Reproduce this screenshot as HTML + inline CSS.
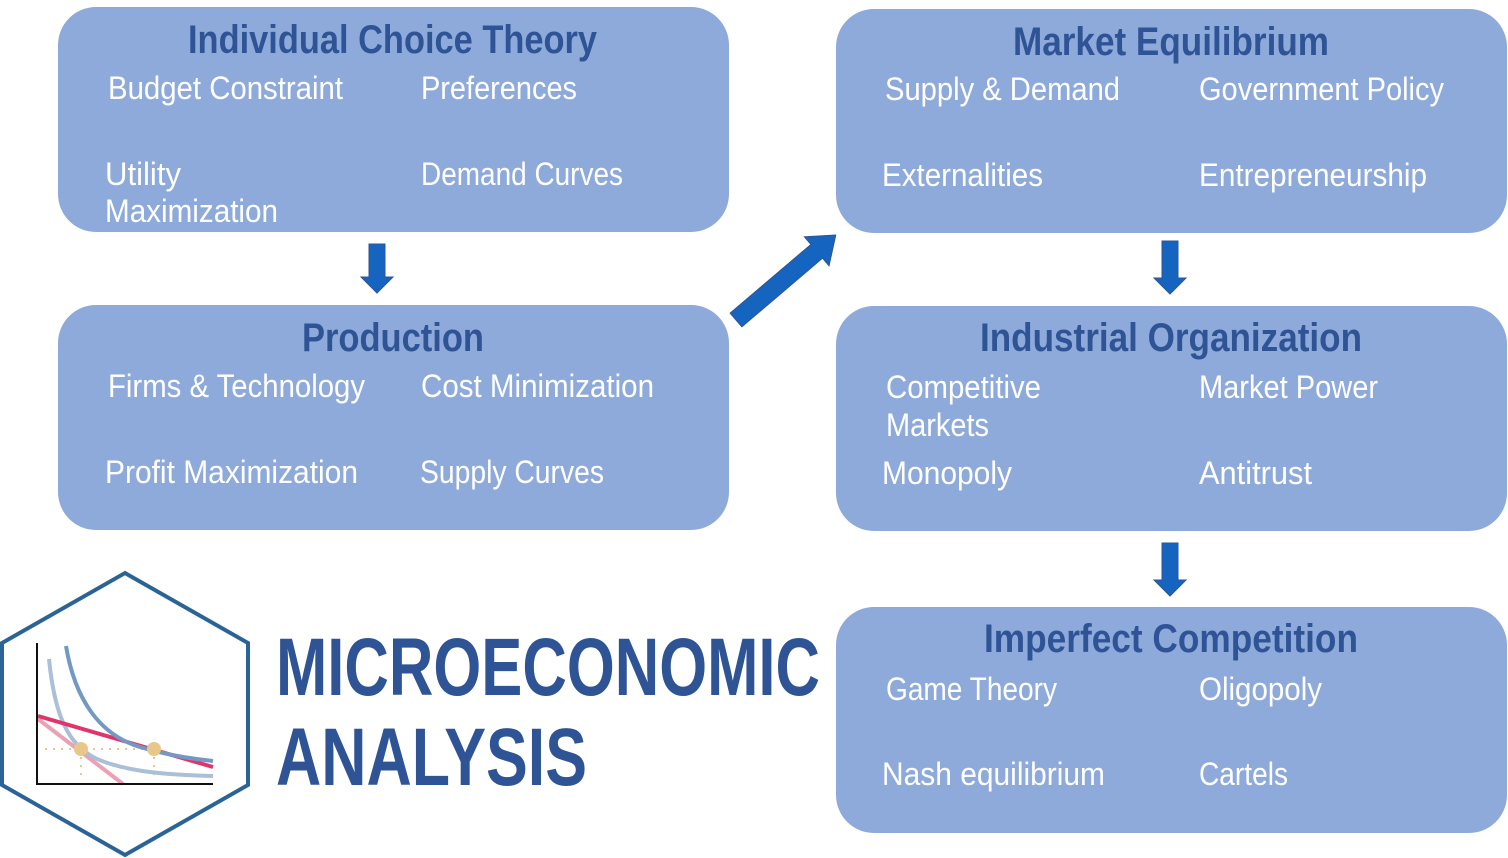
<!DOCTYPE html>
<html><head><meta charset="utf-8"><style>
html,body{margin:0;padding:0;background:#fff;}
svg{display:block;}
.t{font-family:"Liberation Sans",sans-serif;font-weight:bold;fill:#2f5496;font-size:40px;}
.b{font-family:"Liberation Sans",sans-serif;fill:#fff;font-size:32px;}
.m{font-family:"Liberation Sans",sans-serif;font-weight:bold;fill:#2f5496;font-size:82px;}
</style></head><body>
<svg width="1508" height="858" viewBox="0 0 1508 858" xmlns="http://www.w3.org/2000/svg">
<g fill="#8eaadb">
<rect x="58" y="7" width="671" height="225" rx="38"/>
<rect x="58" y="305" width="671" height="225" rx="38"/>
<rect x="836" y="9" width="671" height="224" rx="38"/>
<rect x="836" y="306" width="671" height="225" rx="38"/>
<rect x="836" y="607" width="671" height="226" rx="38"/>
</g>
<g fill="#1565c0" stroke="#2f5496" stroke-width="1">
<polygon points="369,244 385,244 385,277 393,277 377,293 361,277 369,277"/>
<polygon points="1162,241 1178,241 1178,278 1186,278 1170,294 1154,278 1162,278"/>
<polygon points="1162,543 1178,543 1178,580 1186,580 1170,596 1154,580 1162,580"/>
<polygon transform="translate(736,320) rotate(-40.4)" points="0,-9 106,-9 106,-19 131,0 106,19 106,9 0,9"/>
</g>
<text class="t" x="188" y="53" textLength="409" lengthAdjust="spacingAndGlyphs">Individual Choice Theory</text>
<text class="b" x="108" y="99" textLength="235" lengthAdjust="spacingAndGlyphs">Budget Constraint</text>
<text class="b" x="421" y="99" textLength="156" lengthAdjust="spacingAndGlyphs">Preferences</text>
<text class="b" x="105" y="185" textLength="76" lengthAdjust="spacingAndGlyphs">Utility</text>
<text class="b" x="105" y="222" textLength="173" lengthAdjust="spacingAndGlyphs">Maximization</text>
<text class="b" x="421" y="185" textLength="202" lengthAdjust="spacingAndGlyphs">Demand Curves</text>

<text class="t" x="302" y="351" textLength="182" lengthAdjust="spacingAndGlyphs">Production</text>
<text class="b" x="108" y="397" textLength="257" lengthAdjust="spacingAndGlyphs">Firms &amp; Technology</text>
<text class="b" x="421" y="397" textLength="233" lengthAdjust="spacingAndGlyphs">Cost Minimization</text>
<text class="b" x="105" y="483" textLength="253" lengthAdjust="spacingAndGlyphs">Profit Maximization</text>
<text class="b" x="420" y="483" textLength="184" lengthAdjust="spacingAndGlyphs">Supply Curves</text>

<text class="t" x="1013" y="55" textLength="316" lengthAdjust="spacingAndGlyphs">Market Equilibrium</text>
<text class="b" x="885" y="100" textLength="235" lengthAdjust="spacingAndGlyphs">Supply &amp; Demand</text>
<text class="b" x="1199" y="100" textLength="245" lengthAdjust="spacingAndGlyphs">Government Policy</text>
<text class="b" x="882" y="186" textLength="161" lengthAdjust="spacingAndGlyphs">Externalities</text>
<text class="b" x="1199" y="186" textLength="228" lengthAdjust="spacingAndGlyphs">Entrepreneurship</text>

<text class="t" x="980" y="351" textLength="382" lengthAdjust="spacingAndGlyphs">Industrial Organization</text>
<text class="b" x="886" y="398" textLength="155" lengthAdjust="spacingAndGlyphs">Competitive</text>
<text class="b" x="886" y="436" textLength="103" lengthAdjust="spacingAndGlyphs">Markets</text>
<text class="b" x="1199" y="398" textLength="179" lengthAdjust="spacingAndGlyphs">Market Power</text>
<text class="b" x="882" y="484" textLength="130" lengthAdjust="spacingAndGlyphs">Monopoly</text>
<text class="b" x="1199" y="484" textLength="113" lengthAdjust="spacingAndGlyphs">Antitrust</text>

<text class="t" x="984" y="652" textLength="374" lengthAdjust="spacingAndGlyphs">Imperfect Competition</text>
<text class="b" x="886" y="700" textLength="171" lengthAdjust="spacingAndGlyphs">Game Theory</text>
<text class="b" x="1199" y="700" textLength="123" lengthAdjust="spacingAndGlyphs">Oligopoly</text>
<text class="b" x="882" y="785" textLength="223" lengthAdjust="spacingAndGlyphs">Nash equilibrium</text>
<text class="b" x="1199" y="785" textLength="89" lengthAdjust="spacingAndGlyphs">Cartels</text>

<text class="m" x="276" y="695" textLength="544" lengthAdjust="spacingAndGlyphs">MICROECONOMIC</text>
<text class="m" x="276" y="785" textLength="311" lengthAdjust="spacingAndGlyphs">ANALYSIS</text>

<polygon points="125,573 248,643 248,785 125,855 2,785 2,643" fill="#fff" stroke="#2a6496" stroke-width="4"/>
<g fill="none" stroke-linecap="butt">
<path d="M45,749 H154 M81,749 V778 M154,749 V778" stroke="#e8c88a" stroke-width="2" stroke-dasharray="2,6"/>
<path d="M38,719 L123,784" stroke="#eca0b5" stroke-width="4"/>
<path d="M49,659 C55,720 70,745 95,758 C125,772 170,775 213,776" stroke="#a9c0d8" stroke-width="4"/>
<path d="M38,716 L213,767" stroke="#e0356a" stroke-width="4"/>
<path d="M66,646 C75,700 100,735 140,747 C170,756 195,759 213,761" stroke="#7399c2" stroke-width="4"/>
<path d="M37,643 V784 H213" stroke="#111" stroke-width="2"/>
</g>
<circle cx="81" cy="749" r="7" fill="#e8c88a"/>
<circle cx="154" cy="749" r="7" fill="#e8c88a"/>
</svg>
</body></html>
